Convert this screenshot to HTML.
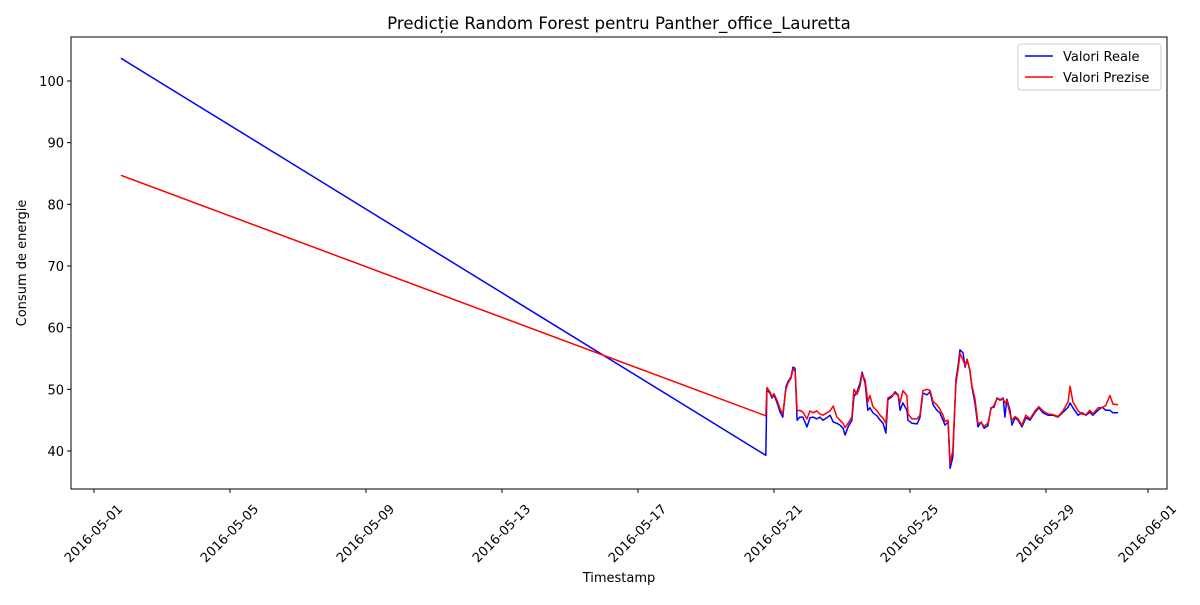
<!DOCTYPE html>
<html><head><meta charset="utf-8"><style>
body{margin:0;background:#fff;}
svg{font-family:"DejaVu Sans","Liberation Sans",sans-serif;}
</style></head><body>
<svg id="chart" width="1200" height="600" xmlns="http://www.w3.org/2000/svg">
<rect width="1200" height="600" fill="#fff"/>
<text x="619" y="29" font-size="16.6" text-anchor="middle">Predicție Random Forest pentru Panther_office_Lauretta</text>
<g id="plot"></g>
<text x="619" y="582" font-size="13" text-anchor="middle">Timestamp</text>
<text transform="translate(26,263) rotate(-90)" font-size="13" text-anchor="middle">Consum de energie</text>
<g>
<rect x="1018" y="44" width="143" height="46" fill="#fff" stroke="#ccc" rx="3"/>
<line x1="1025" y1="56" x2="1053" y2="56" stroke="blue" stroke-width="1.5"/>
<text x="1063" y="61" font-size="13">Valori Reale</text>
<line x1="1025" y1="77" x2="1053" y2="77" stroke="red" stroke-width="1.5"/>
<text x="1063" y="82" font-size="13">Valori Prezise</text>
</g>
</svg>
<script>
const days=[0.79,19.76,19.79,19.88,19.94,20.00,20.09,20.18,20.26,20.35,20.41,20.50,20.56,20.62,20.68,20.76,20.85,20.97,21.06,21.15,21.26,21.35,21.44,21.56,21.65,21.74,21.85,21.94,22.03,22.09,22.18,22.29,22.35,22.44,22.53,22.59,22.68,22.76,22.82,22.91,23.03,23.12,23.21,23.29,23.35,23.47,23.56,23.65,23.71,23.79,23.91,23.94,24.06,24.21,24.29,24.38,24.50,24.59,24.68,24.79,24.88,24.97,25.03,25.12,25.18,25.26,25.35,25.41,25.47,25.56,25.62,25.68,25.76,25.82,25.91,26.00,26.09,26.18,26.29,26.38,26.47,26.56,26.65,26.74,26.79,26.85,26.94,27.00,27.09,27.18,27.29,27.41,27.53,27.68,27.79,27.91,28.06,28.21,28.35,28.50,28.65,28.71,28.79,28.94,29.06,29.18,29.29,29.38,29.53,29.65,29.76,29.88,29.97,30.12];
const realVals=[103.7,39.3,49.9,49.4,48.6,49.1,47.8,46.3,45.5,50.4,51.2,52.0,53.6,53.4,45.0,45.5,45.5,43.9,45.4,45.5,45.2,45.5,45.0,45.4,45.8,44.7,44.5,44.2,43.7,42.6,43.9,45.0,48.8,49.6,51.0,52.8,51.0,46.6,47.0,46.2,45.7,45.0,44.5,42.9,48.3,48.8,49.6,49.1,46.6,47.8,46.6,45.0,44.5,44.4,45.4,49.4,49.1,49.6,47.5,46.6,46.2,45.0,44.2,44.7,37.2,39.0,51.5,53.6,56.4,55.9,53.6,54.8,53.1,50.4,47.8,43.9,44.7,43.7,44.1,47.0,47.1,48.6,48.3,48.6,45.5,48.4,46.6,44.2,45.4,45.0,43.9,45.4,45.0,46.3,47.0,46.2,45.8,45.8,45.5,46.3,47.1,47.8,47.0,45.8,46.2,45.8,46.3,45.8,46.6,47.1,46.6,46.6,46.2,46.2];
const predVals=[84.7,45.7,50.3,49.6,48.8,49.3,48.2,46.8,46.0,50.0,51.0,51.8,53.2,53.0,46.5,46.6,46.3,45.2,46.5,46.2,46.5,46.0,45.8,46.2,46.5,47.3,45.5,45.0,44.5,43.8,44.5,45.5,50.0,49.2,50.5,52.5,51.5,48.0,49.0,47.2,46.5,45.8,45.3,44.5,48.6,49.0,49.4,49.0,47.8,49.8,49.0,46.0,45.2,45.2,45.8,49.8,50.0,49.8,48.0,47.5,46.8,45.8,44.8,45.0,38.0,40.0,51.0,53.0,55.8,54.8,53.8,54.9,53.2,50.6,48.5,44.5,44.6,44.0,44.5,46.8,47.4,48.5,48.2,48.5,47.8,48.2,46.0,45.0,45.6,45.2,44.2,45.8,45.2,46.5,47.2,46.5,46.0,45.9,45.6,46.5,48.0,50.5,48.0,46.5,46.0,45.9,46.6,46.0,47.0,47.0,47.4,49.0,47.6,47.5];
const xTickDays=[0,4,8,12,16,20,24,28,31];
const xTickLabels=["2016-05-01","2016-05-05","2016-05-09","2016-05-13","2016-05-17","2016-05-21","2016-05-25","2016-05-29","2016-06-01"];
const yTicks=[40,50,60,70,80,90,100];

const NS="http://www.w3.org/2000/svg";
const L=71,R=1167,T=37,B=489;
const xS=d=>94+34*d;
const yS=v=>451-(v-40)*(370/60);
const g=document.getElementById('plot');
function mk(t,a){const e=document.createElementNS(NS,t);for(const k in a)e.setAttribute(k,a[k]);g.appendChild(e);return e;}
function line(vals,color,name){
  const p=mk('path',{d:vals.map((v,i)=>(i?'L':'M')+xS(days[i]).toFixed(1)+','+yS(v).toFixed(1)).join(''),fill:'none',stroke:color,'stroke-width':1.5,'stroke-linejoin':'round'});
  
  
}
line(realVals,'blue','real-values-line');
line(predVals,'red','predicted-values-line');
const fr=mk('rect',{x:L,y:T,width:R-L,height:B-T,fill:'none',stroke:'#000','stroke-width':1});


xTickDays.forEach((d,i)=>{
  const x=xS(d);
  mk('line',{x1:x,y1:B,x2:x,y2:B+4,stroke:'#000'});
  const t=mk('text',{x:0,y:0,'font-size':13,'text-anchor':'middle','dominant-baseline':'central',transform:`translate(${x},${B+45}) rotate(-45)`});
  t.textContent=xTickLabels[i];
  
  
});
yTicks.forEach(v=>{
  const y=yS(v);
  mk('line',{x1:L-4,y1:y,x2:L,y2:y,stroke:'#000'});
  const t=mk('text',{x:L-7,y:y+5,'font-size':13,'text-anchor':'end'});
  t.textContent=v;
  
  
});
</script>
</body></html>
